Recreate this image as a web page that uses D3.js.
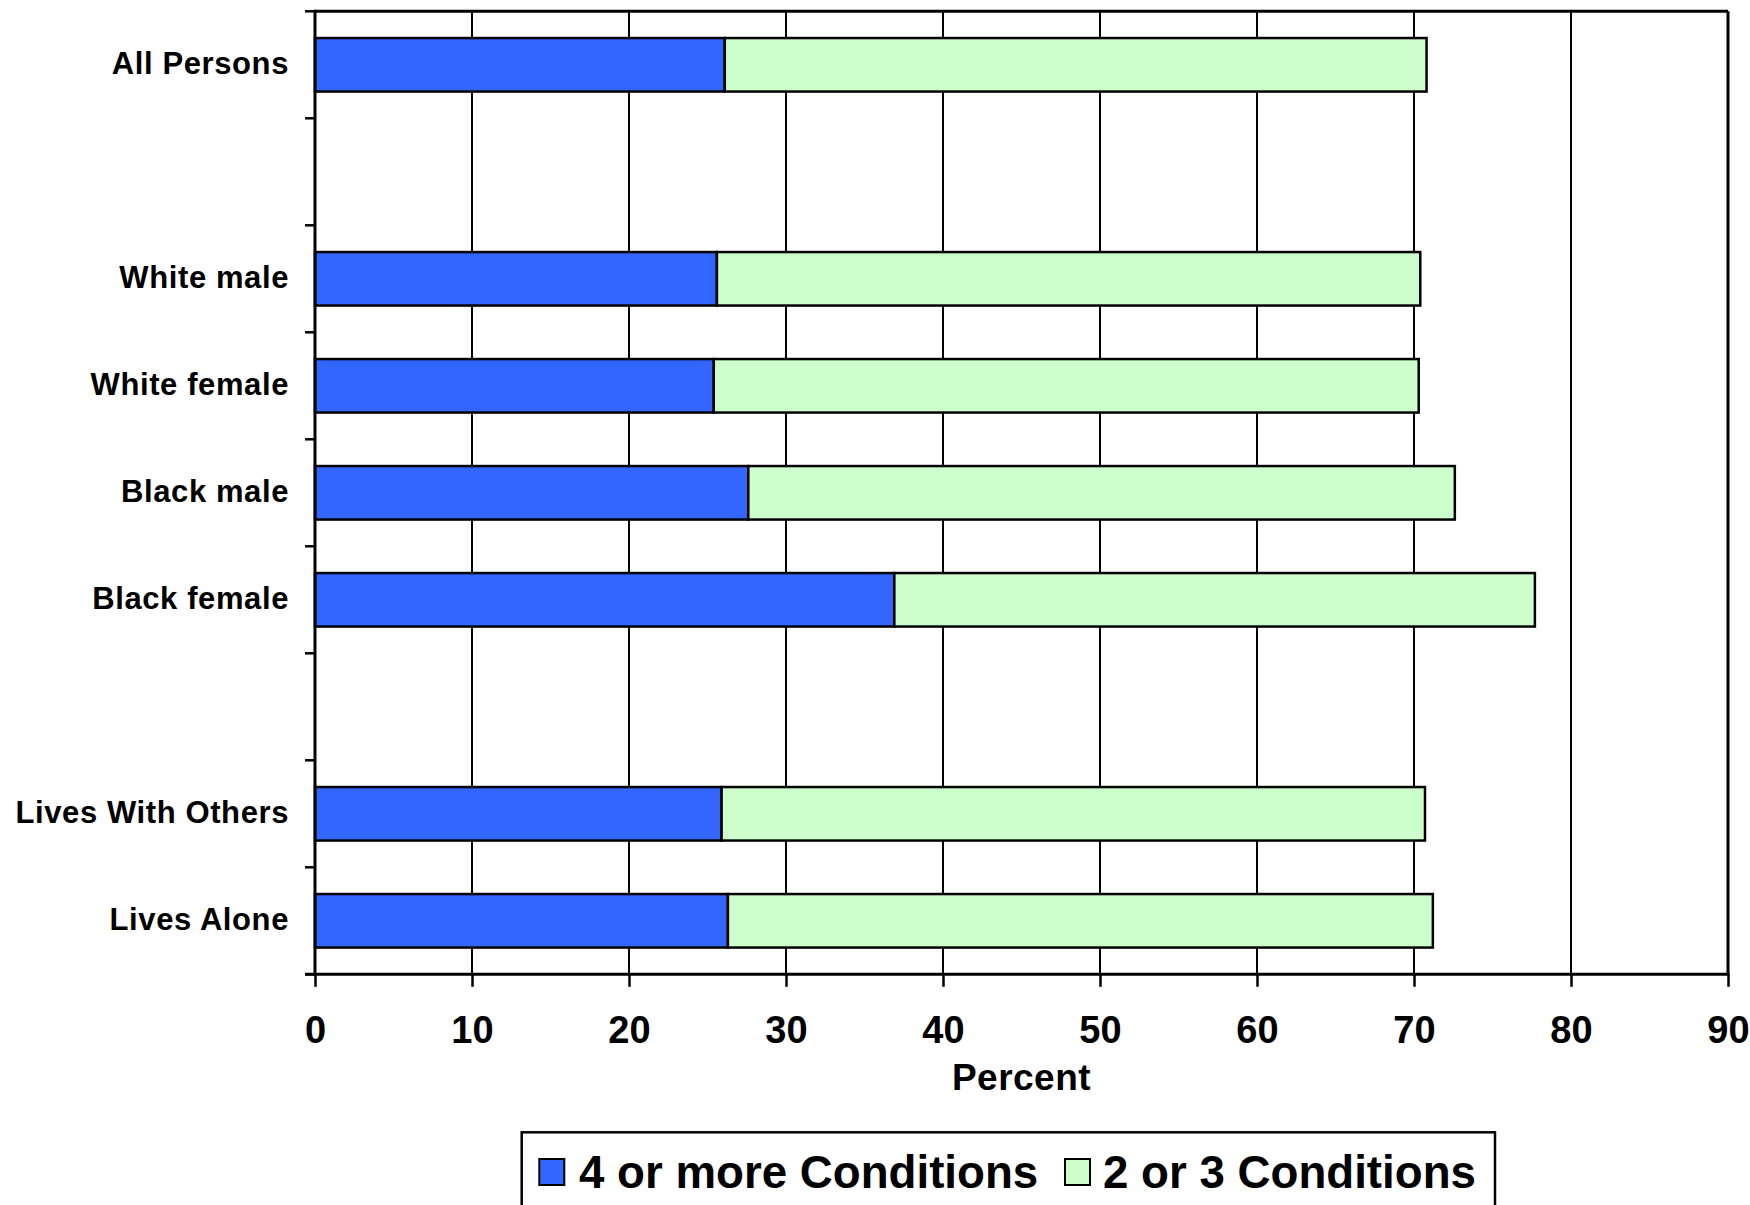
<!DOCTYPE html>
<html>
<head>
<meta charset="utf-8">
<script src="https://cdn.jsdelivr.net/npm/d3@7"></script>
<style>
  html, body { margin: 0; padding: 0; background: #fff; }
  svg { display: block; font-family: "Liberation Sans", Arial, sans-serif; }
</style>
</head>
<body>
<svg id="chart" width="1750" height="1205"></svg>
<script>
// ---- Data ----
const categories = ["All Persons", "", "White male", "White female", "Black male", "Black female", " ", "Lives With Others", "Lives Alone"];
const fourOrMore = [26.1, 0, 25.6, 25.4, 27.6, 36.9, 0, 25.9, 26.3];
const twoOrThree = [44.7, 0, 44.8, 44.9, 45.0, 40.8, 0, 44.8, 44.9];
const seriesNames = ["4 or more Conditions", "2 or 3 Conditions"];
const seriesColors = ["#3366FF", "#CCFFCC"];
const xTicks = [0, 10, 20, 30, 40, 50, 60, 70, 80, 90];
const xTitle = "Percent";

(function () {
// ---- Layout ----
const pLeft = 315, pRight = 1728, pTop = 11.3, pBottom = 974.3;
const svg = d3.select("#chart");

const x = d3.scaleLinear().domain([0, 90]).range([pLeft, pRight]);
const y = d3.scaleBand().domain(categories).range([pTop, pBottom]).paddingInner(0.5).paddingOuter(0.25);

// gridlines
svg.append("g").selectAll("line").data(xTicks.filter(t => t > 0 && t < 90)).join("line")
  .attr("x1", d => x(d)).attr("x2", d => x(d))
  .attr("y1", pTop).attr("y2", pBottom)
  .attr("stroke", "#000").attr("stroke-width", 2);

// frame top/right
svg.append("line").attr("x1", pLeft).attr("x2", pRight).attr("y1", pTop).attr("y2", pTop)
  .attr("stroke", "#000").attr("stroke-width", 3);
svg.append("line").attr("x1", pRight).attr("x2", pRight).attr("y1", pTop).attr("y2", pBottom)
  .attr("stroke", "#000").attr("stroke-width", 3);

// stacked bars
const rows = categories.map((c, i) => ({ cat: c, a: fourOrMore[i], b: twoOrThree[i] }));
const stack = d3.stack().keys(["a", "b"])(rows);
const valid = new Set(categories.filter(c => c.trim() !== ""));
svg.append("g").selectAll("g").data(stack).join("g")
  .attr("fill", (d, i) => seriesColors[i])
  .selectAll("rect").data(d => d.filter(p => valid.has(p.data.cat))).join("rect")
  .attr("x", d => x(d[0]))
  .attr("width", d => x(d[1]) - x(d[0]))
  .attr("y", d => y(d.data.cat))
  .attr("height", y.bandwidth())
  .attr("stroke", "#000").attr("stroke-width", 2.5);

// left axis line + boundary ticks
const step = y.step();
svg.append("g").selectAll("line").data(d3.range(categories.length + 1)).join("line")
  .attr("x1", pLeft - 10).attr("x2", pLeft)
  .attr("y1", i => pTop + i * step).attr("y2", i => pTop + i * step)
  .attr("stroke", "#000").attr("stroke-width", 2.5);
svg.append("line").attr("x1", pLeft).attr("x2", pLeft).attr("y1", pTop - 1.5).attr("y2", pBottom)
  .attr("stroke", "#000").attr("stroke-width", 3);

// category labels
svg.append("g").selectAll("text").data(categories.filter(c => c.trim() !== "")).join("text")
  .attr("x", 289).attr("y", d => y(d) + y.bandwidth() / 2)
  .attr("dy", "0.3em")
  .attr("text-anchor", "end")
  .attr("font-size", 31).attr("font-weight", "bold").attr("letter-spacing", 0.6)
  .attr("fill", "#000")
  .text(d => d);

// bottom axis
const xAxis = d3.axisBottom(x).tickValues(xTicks).tickSize(12.5).tickSizeOuter(0);
const gx = svg.append("g").attr("transform", `translate(0,${pBottom})`).call(xAxis);
gx.select(".domain").remove();
gx.selectAll(".tick line").attr("stroke", "#000").attr("stroke-width", 2.5);
gx.selectAll(".tick text")
  .attr("y", 69).attr("dy", 0)
  .attr("font-size", 38).attr("font-weight", "bold")
  .attr("font-family", "'Liberation Sans', Arial, sans-serif")
  .attr("fill", "#000");
svg.append("line").attr("x1", pLeft - 10).attr("x2", pRight + 1.5).attr("y1", pBottom).attr("y2", pBottom)
  .attr("stroke", "#000").attr("stroke-width", 3);

// axis title
svg.append("text").attr("x", (pLeft + pRight) / 2).attr("y", 1090)
  .attr("text-anchor", "middle").attr("font-size", 37).attr("font-weight", "bold")
  .attr("letter-spacing", 0.5).text(xTitle);

// legend
svg.append("rect").attr("x", 521.7).attr("y", 1132.3).attr("width", 973.3).attr("height", 100)
  .attr("fill", "#fff").attr("stroke", "#000").attr("stroke-width", 2.5);
const legendItems = [
  { sx: 539.3, tx: 579, name: seriesNames[0], color: seriesColors[0] },
  { sx: 1065, tx: 1103, name: seriesNames[1], color: seriesColors[1] }
];
const lg = svg.append("g").selectAll("g").data(legendItems).join("g");
lg.append("rect").attr("x", d => d.sx).attr("y", 1159).attr("width", 25).attr("height", 26)
  .attr("fill", d => d.color).attr("stroke", "#000").attr("stroke-width", 2);
lg.append("text")
  .attr("transform", d => `translate(${d.tx},1188.3) scale(0.972,1)`)
  .attr("font-size", 47).attr("font-weight", "bold").attr("fill", "#000")
  .text(d => d.name);
})();
</script>
</body>
</html>
